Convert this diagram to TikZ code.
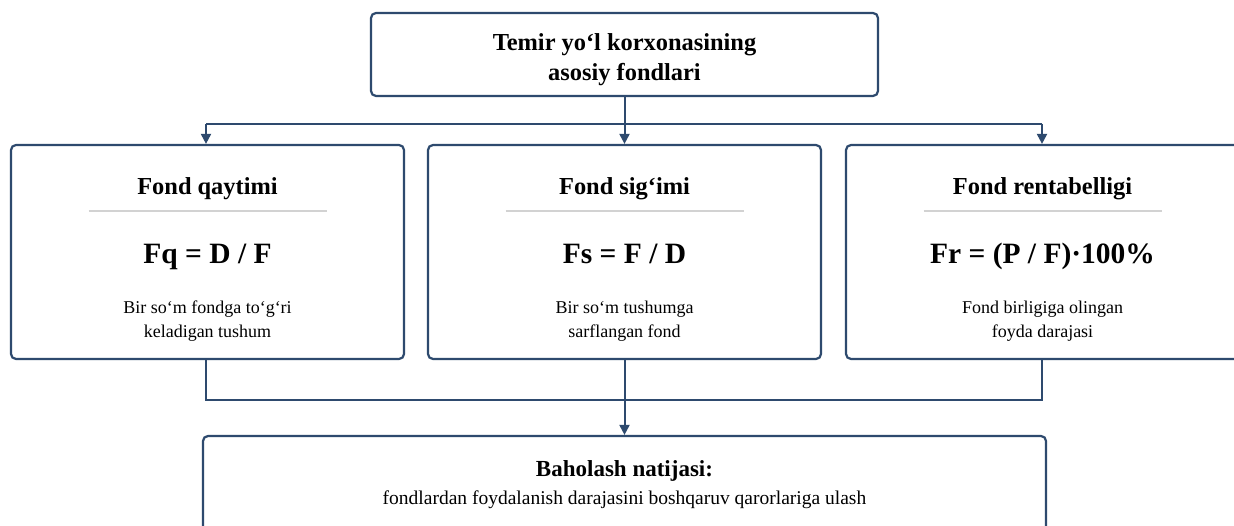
\documentclass[tikz,border=0pt]{standalone}
\usepackage{fontspec}
\setmainfont{Liberation Serif}
\usetikzlibrary{arrows.meta}
\definecolor{navy}{HTML}{2E4A6E}
\definecolor{rulegray}{HTML}{D2D2D2}
\tikzset{
  box/.style={draw=navy, line width=2.2pt, rounded corners=5pt, fill=white},
  conn/.style={draw=navy, line width=2pt},
  arr/.style={conn, -{Triangle[length=10pt,width=10pt]}},
  ttl/.style={font=\fontsize{24.4}{30}\selectfont\bfseries, align=center},
  frm/.style={font=\fontsize{29.5}{34}\selectfont\bfseries, anchor=base},
  dsc/.style={font=\fontsize{18}{24}\selectfont, align=center},
  sep/.style={draw=rulegray, line width=1.3pt}
}
\begin{document}
\begin{tikzpicture}[x=1pt,y=-1pt]
\useasboundingbox (0,0) rectangle (1234,526);
\clip (0,0) rectangle (1234,526);
\fill[white] (0,0) rectangle (1234,526);
% top box
\node[box, minimum width=507pt, minimum height=83pt] (top) at (624.5,54.5) {};
\node[ttl] (toptxt) at (624.5,60) {Temir yo‘l korxonasining\\asosiy fondlari};
% three boxes
\node[box, minimum width=393pt, minimum height=214pt] (b1) at (207.5,252) {};
\node[box, minimum width=393pt, minimum height=214pt] (b2) at (624.5,252) {};
\node[box, minimum width=393pt, minimum height=214pt] (b3) at (1042.5,252) {};
% bottom box
\node[box, minimum width=843pt, minimum height=130pt] (bot) at (624.5,501) {};
% box 1 content
\node[ttl, anchor=base] (t1) at (207.5,195) {Fond qaytimi};
\coordinate (s1a) at (88.5,211); \coordinate (s1b) at (326.5,211);
\draw[sep] (s1a) -- (s1b);
\node[frm] (f1) at (207.5,264) {Fq = D / F};
\node[dsc] (d1) at (207.5,321) {Bir so‘m fondga to‘g‘ri\\keladigan tushum};
% box 2 content
\node[ttl, anchor=base] (t2) at (624.5,195) {Fond sig‘imi};
\coordinate (s2a) at (505.5,211); \coordinate (s2b) at (743.5,211);
\draw[sep] (s2a) -- (s2b);
\node[frm] (f2) at (624.5,264) {Fs = F / D};
\node[dsc] (d2) at (624.5,321) {Bir so‘m tushumga\\sarflangan fond};
% box 3 content
\node[ttl, anchor=base] (t3) at (1042.5,195) {Fond rentabelligi};
\coordinate (s3a) at (923.5,211); \coordinate (s3b) at (1161.5,211);
\draw[sep] (s3a) -- (s3b);
\node[frm] (f3) at (1042.5,264) {Fr = (P / F)·100\%};
\node[dsc] (d3) at (1042.5,321) {Fond birligiga olingan\\foyda darajasi};
% bottom content
\node[ttl, font=\fontsize{23}{28}\selectfont\bfseries] (bt) at (624.5,471) {Baholash natijasi:};
\node[dsc, font=\fontsize{19.5}{24}\selectfont] (bd) at (624.5,500) {fondlardan foydalanish darajasini boshqaruv qarorlariga ulash};
% connectors top
\coordinate (j1) at (624.5,124);
\coordinate (j1l) at (206,124);
\coordinate (j1r) at (1042,124);
\draw[conn] (j1l) -- (j1r);
\draw[arr] (top.south) -- (b2.north);
\draw[arr] (j1l) -- (j1l |- b1.north);
\draw[arr] (j1r) -- (j1r |- b3.north);
% connectors bottom
\coordinate (j2l) at (206,400);
\coordinate (j2r) at (1042,400);
\draw[conn] (j2l |- b1.south) -- (j2l) -- (j2r) -- (j2r |- b3.south);
\draw[arr] (b2.south) -- (bot.north);
\end{tikzpicture}
\end{document}
